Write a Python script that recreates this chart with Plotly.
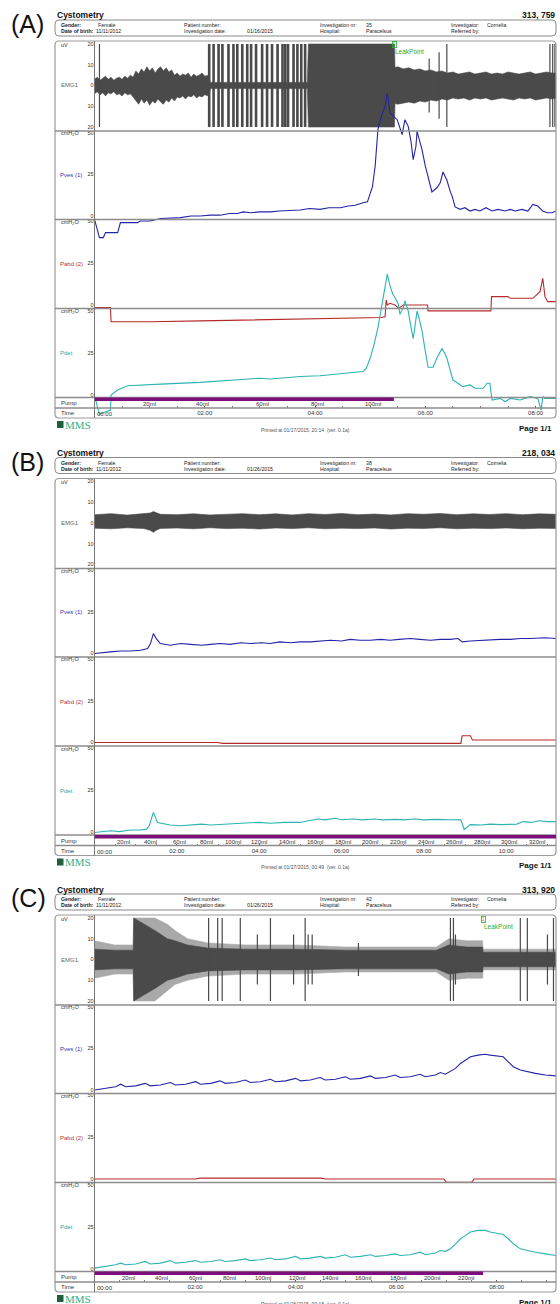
import plotly.graph_objects as go

# ======================= DATA =======================
# ---- Panel A ----
A_time_ticks = [0, 2, 4, 6, 8]
A_time_labels = ["00:00", "02:00", "04:00", "06:00", "08:00"]
A_tmax = 8.37
A_pump_end = 5.43
A_pump_ml = ["20ml", "40ml", "60ml", "80ml", "100ml"]
A_pump_t = [1.00, 1.96, 3.04, 4.04, 5.05]
A_leak_t = 5.40

A_pves_t = [0.00, 0.05, 0.09, 0.16, 0.20, 0.33, 0.42, 0.47, 0.78, 0.83,
            1.01, 1.20, 1.40, 1.56, 1.75, 1.92, 2.10, 2.28, 2.45, 2.59,
            2.70, 2.83, 3.00, 3.19, 3.35, 3.55, 3.73, 3.90, 4.09, 4.25,
            4.46, 4.60, 4.73, 4.87, 4.95, 5.04, 5.09, 5.14, 5.22, 5.27,
            5.31, 5.36, 5.43, 5.49, 5.58, 5.63, 5.69, 5.74, 5.78, 5.83,
            5.85, 5.94, 6.00, 6.05, 6.12, 6.21, 6.27, 6.32, 6.39, 6.45,
            6.49, 6.54, 6.63, 6.72, 6.81, 6.90, 6.99, 7.10, 7.21, 7.32,
            7.45, 7.54, 7.63, 7.75, 7.86, 7.95, 8.04, 8.13, 8.21, 8.30,
            8.37]
A_pves_v = [-2, -8, -13, -13, -10, -10, -10, -4, -4, -3,
            -3, -1.5, -1, -1, 0, 0, 0.5, 0.5, 1.5, 1.5,
            2.5, 2, 2.5, 2.5, 3, 3.5, 3.6, 4.5, 4, 5,
            5, 6, 6.5, 8, 8.5, 17.5, 30, 52, 62, 66,
            74, 62, 60, 58, 49, 58, 54, 45, 34, 42,
            51, 40, 30, 23.5, 14.5, 17, 20, 26.5, 21.7, 15,
            11.5, 5.5, 4, 5, 3, 4, 3, 5, 3, 4,
            3, 4, 3, 4, 3, 7, 6, 3, 2, 2,
            3]

A_pabd_t = [0.00, 0.29, 0.30, 1.01, 1.92, 2.83, 3.70, 4.50, 5.20, 5.27,
            5.29, 5.31, 5.36, 5.45, 5.52, 5.60, 5.80, 6.04, 6.05, 6.50,
            7.19, 7.20, 7.50, 7.54, 7.95, 8.08, 8.13, 8.17, 8.22, 8.37]
A_pabd_v = [-1.5, -1.5, -10, -10, -9.5, -9, -8.5, -8, -7.5, -7,
            3, 0, 1, 0, -2, 0, 0, 0, -3.5, -3.5,
            -3.5, 5, 5, 4, 4, 8, 16, 5, 2, 2]

A_pdet_t = [0.00, 0.05, 0.09, 0.20, 0.29, 0.30, 0.42, 0.60, 0.83, 1.20,
            1.92, 2.59, 3.00, 3.19, 3.73, 4.09, 4.46, 4.73, 4.87, 4.93,
            5.00, 5.07, 5.14, 5.24, 5.31, 5.36, 5.41, 5.45, 5.51, 5.54,
            5.60, 5.63, 5.69, 5.72, 5.78, 5.83, 5.85, 5.90, 5.94, 6.00,
            6.05, 6.14, 6.21, 6.30, 6.35, 6.39, 6.45, 6.50, 6.59, 6.68,
            6.81, 6.90, 7.05, 7.12, 7.17, 7.21, 7.36, 7.45, 7.54, 7.72,
            7.90, 8.04, 8.10, 8.13, 8.17, 8.26, 8.37]
A_pdet_v = [-0.5, -6, -11.5, -10, -9, 0, 3, 5.5, 6, 6.5,
            7.5, 9, 10, 9.5, 11, 11.5, 12.4, 13.5, 14, 16,
            22, 30, 40, 58, 72, 65, 60, 58, 54, 48,
            52, 56, 50, 44, 33.5, 45, 50, 44, 38, 26,
            16.5, 16.5, 22, 27.6, 25, 22, 15, 9, 7, 5,
            6, 4, 4, 7, 7, -3, -2, -4, -2, -3,
            -1, -2, -9, -1, -2, -2, -2]

A_emg_t = [0.00, 0.05, 0.10, 0.15, 0.20, 0.25, 0.30, 0.35, 0.40, 0.45,
           0.50, 0.55, 0.60, 0.65, 0.70, 0.75, 0.80, 0.85, 0.90, 0.95,
           1.00, 1.05, 1.10, 1.15, 1.20, 1.25, 1.30, 1.35, 1.40, 1.45,
           1.50, 1.55, 1.60, 1.65, 1.70, 1.75, 1.80, 1.85, 1.90, 1.95,
           2.00, 2.07, 2.10, 3.86, 3.88, 5.44, 5.45,
           5.50, 5.60, 5.70, 5.80, 5.90, 6.00, 6.10, 6.20, 6.30, 6.40,
           6.50, 6.60, 6.70, 6.80, 6.90, 7.00, 7.10, 7.20, 7.30, 7.40,
           7.50, 7.60, 7.70, 7.80, 7.90, 8.00, 8.10, 8.20, 8.30, 8.37]
A_emg_hi = [3, 4, 2.5, 3.5, 4.5, 3, 4, 2.5, 3.5, 4,
            3, 4.5, 3.5, 5, 4, 7, 5.5, 8, 6.5, 9,
            7, 8.5, 6, 8, 9, 7, 8.5, 6.5, 7.5, 5,
            6, 4.5, 5.5, 5, 6, 4, 5.5, 4.5, 5, 6,
            4.5, 5, 1.5, 1.5, 20, 20, 8.7,
            9, 8, 8.5, 7.5, 8, 7, 7.5, 6.5, 7, 6,
            6.5, 5.5, 6, 6.5, 5.5, 6, 6.5, 5.5, 6, 5.5,
            6.5, 6, 5.5, 6, 6.5, 5.5, 6, 6.5, 6, 6]
A_emg_lo = [-4, -3, -4.5, -3.5, -5, -3.5, -4, -3, -4.5, -4,
            -5, -3.5, -4.5, -4, -5.5, -7, -9, -6.5, -8.5, -7,
            -9.5, -7.5, -8.5, -6.5, -8, -9, -7, -8, -6, -7.5,
            -5.5, -6, -5, -6.5, -5, -5.5, -4.5, -6, -5, -5.5,
            -4.5, -5, -1.5, -1.5, -20, -20, -8.7,
            -9, -8.5, -8, -8.5, -7.5, -8, -7, -7.5, -6.5, -7,
            -6, -6.5, -6, -7, -6, -6.5, -6, -7, -6.5, -6,
            -6.5, -7, -6, -6.5, -6, -7, -6.5, -6, -6.5, -6]
A_bar_t = [2.08, 2.16, 2.25, 2.32, 2.43, 2.52, 2.59, 2.68, 2.77, 2.84,
           2.93, 3.04, 3.13, 3.22, 3.32, 3.41, 3.46, 3.51, 3.61, 3.68,
           3.75, 3.82]
A_bar_amp = [20] * 22
A_spk_t = [0.09, 6.07, 6.25, 6.39, 8.26, 8.31, 8.35]
A_spk_amp = [20, 13, 16, 20, 20, 20, 20]

# ---- Panel B ----
B_time_ticks = [0, 2, 4, 6, 8, 10]
B_time_labels = ["00:00", "02:00", "04:00", "06:00", "08:00", "10:00"]
B_tmax = 11.21
B_pump_end = 11.21
B_pump_ml = ["20ml", "40ml", "60ml", "80ml", "100ml", "120ml", "140ml", "160ml",
             "180ml", "200ml", "220ml", "240ml", "260ml", "280ml", "300ml", "320ml"]
B_pump_t = [0.70, 1.36, 2.06, 2.72, 3.37, 4.00, 4.68, 5.36,
            6.04, 6.70, 7.38, 8.06, 8.74, 9.42, 10.07, 10.75]

B_pves_t = [0.00, 0.15, 0.39, 0.63, 0.87, 1.12, 1.29, 1.36, 1.43, 1.50,
            1.60, 1.84, 2.10, 2.33, 2.60, 2.82, 3.05, 3.30, 3.55, 3.79,
            4.05, 4.27, 4.50, 4.76, 5.00, 5.24, 5.50, 5.73, 6.00, 6.21,
            6.45, 6.70, 6.95, 7.18, 7.40, 7.67, 7.90, 8.16, 8.40, 8.64,
            8.83, 8.93, 9.13, 9.40, 9.61, 9.85, 10.10, 10.35, 10.58, 10.80,
            10.95, 11.21]
B_pves_v = [0, 0.5, 1, 1.5, 1.5, 2, 3, 6, 12, 9,
            6, 5, 6, 5.5, 5, 5.5, 6, 5.5, 6.5, 6,
            6.5, 6, 7, 6.5, 7, 7, 7.5, 8, 7.5, 8.5,
            8, 8, 8.5, 8, 8.5, 9, 8.5, 8, 8.5, 8.5,
            9, 7, 7.5, 8, 8, 8.5, 8.5, 9, 9, 9.5,
            9.5, 9]

B_pabd_t = [0.00, 3.00, 3.10, 5.80, 8.90, 8.93, 9.13, 9.18, 11.21]
B_pabd_v = [0, 0, -0.5, -0.5, -0.5, 4, 4, 1.5, 1.5]

B_pdet_t = [0.00, 0.20, 0.39, 0.60, 0.87, 1.10, 1.26, 1.33, 1.43, 1.53,
            1.70, 1.84, 2.10, 2.33, 2.60, 2.82, 3.10, 3.40, 3.79, 4.00,
            4.27, 4.60, 5.00, 5.20, 5.43, 5.60, 5.85, 6.00, 6.30, 6.50,
            6.80, 7.00, 7.30, 7.50, 7.80, 8.00, 8.30, 8.64, 8.90, 8.98,
            9.13, 9.40, 9.60, 9.90, 10.26, 10.41, 10.60, 10.80, 11.00, 11.21]
B_pdet_v = [0, 0.5, 1, 0.5, 1.5, 1.5, 2, 4, 12, 6,
            5, 4.5, 4, 4.5, 5, 4.5, 5, 5.5, 5.8, 6,
            5.5, 6, 6, 7, 8, 7.5, 8.5, 7.6, 8, 7.5,
            8, 7.5, 7.8, 7.5, 8, 7.5, 7.8, 7.6, 7.5, 1.8,
            4.7, 4.5, 5, 4.7, 5, 6.5, 6, 7, 6.5, 6.5]

B_emg_t = [0.0, 0.4, 0.8, 1.2, 1.35, 1.43, 1.5, 1.6, 2.0, 2.4,
           2.8, 3.2, 3.6, 4.0, 4.4, 4.8, 5.2, 5.6, 6.0, 6.4,
           6.8, 7.2, 7.6, 8.0, 8.4, 8.8, 9.2, 9.6, 10.0, 10.4,
           10.8, 11.21]
B_emg_hi = [4, 4.5, 3.8, 4.3, 4.8, 5.5, 4.8, 4.2, 4, 4.4,
            3.9, 4.3, 4.5, 4, 4.4, 3.9, 4.5, 4.1, 4.6, 4,
            4.3, 3.9, 4.5, 4.2, 4.6, 4, 4.4, 4.1, 4.5, 4,
            4.4, 4.2]
B_emg_lo = [-2.5, -2.8, -2.3, -2.7, -3.5, -4.5, -3.5, -2.6, -2.4, -2.8,
            -2.3, -2.7, -2.5, -2.9, -2.4, -2.7, -2.3, -2.8, -2.5, -2.7,
            -2.4, -2.9, -2.5, -2.6, -2.3, -2.8, -2.5, -2.7, -2.4, -2.8,
            -2.5, -2.6]

# ---- Panel C ----
C_time_ticks = [0, 2, 4, 6, 8]
C_time_labels = ["00:00", "02:00", "04:00", "06:00", "08:00"]
C_tmax = 9.18
C_pump_end = 7.73
C_pump_ml = ["20ml", "40ml", "60ml", "80ml", "100ml", "120ml", "140ml", "160ml",
             "180ml", "200ml", "220ml"]
C_pump_t = [0.68, 1.33, 2.01, 2.68, 3.36, 4.02, 4.69, 5.35, 6.04, 6.72, 7.38]
C_leak_t = 7.69

C_pres_t = [0.00, 0.22, 0.42, 0.52, 0.62, 0.82, 1.01, 1.11, 1.31, 1.51,
            1.61, 1.81, 2.01, 2.11, 2.31, 2.50, 2.60, 2.80, 3.00, 3.10,
            3.30, 3.50, 3.60, 3.80, 4.00, 4.10, 4.29, 4.49, 4.59, 4.79,
            4.99, 5.09, 5.29, 5.49, 5.59, 5.79, 5.98, 6.08, 6.28, 6.48,
            6.58, 6.78, 6.88, 6.98, 7.08, 7.18, 7.28, 7.38, 7.48, 7.63,
            7.77, 7.87, 8.01, 8.13, 8.23, 8.33, 8.47, 8.61, 8.77, 8.97,
            9.18]
C_pves_v = [0, 1, 2, 3.5, 2, 2.5, 4, 2.5, 3, 4.5,
            3, 3.5, 5, 3.5, 4, 5.5, 4, 4.5, 6, 4.5,
            5, 6.5, 5, 5.5, 7, 5.5, 6, 7.5, 6, 6.5,
            8, 6.5, 7, 8.5, 7, 7.5, 9, 7.5, 8, 9.5,
            8, 9, 10.5, 9.5, 11, 13, 16, 18, 20, 21,
            21.5, 21, 20.5, 20, 17, 14, 12, 11, 10, 9,
            8.5]
C_pdet_v = [0.5, 1.5, 2.5, 3.5, 2.5, 3, 4.5, 3, 3.5, 5,
            3.5, 4, 5, 4, 4.5, 5.5, 4.5, 5, 6, 5,
            5.5, 6.5, 5.5, 6, 7.5, 6, 6.5, 7.5, 6.5, 7,
            8.5, 7, 7.5, 8.5, 7.5, 8, 9, 8, 8.5, 10,
            8.5, 9.5, 11, 10.5, 12, 15, 18, 20, 22, 23,
            23, 22, 21, 20.5, 18, 15, 12, 11, 10, 9,
            8]
C_pabd_t = [0.00, 2.00, 2.10, 4.50, 4.60, 6.95, 7.00, 7.50, 7.55, 9.18]
C_pabd_v = [0, 0, 0.5, 0.5, 0, 0, -2, -2, 0, 0]

C_emg_t = [0.00, 0.40, 0.77, 0.78, 1.20, 1.45, 1.60, 1.85, 2.25, 3.00,
           4.00, 5.00, 6.00, 6.80, 7.05, 7.40, 7.72, 7.73, 8.50, 9.18]
C_emg_outer_hi = [9, 7, 7, 20, 20, 17, 14, 10, 8, 7, 7, 6, 6, 6, 10, 9, 9, 5, 5, 5]
C_emg_outer_lo = [-9, -7, -7, -20, -20, -15, -12, -10, -8, -7, -7, -6, -6, -6, -10, -9, -9, -5, -5, -5]
C_emg_inner_hi = [5, 4.5, 4.5, 20, 14, 10, 9, 7, 5.5, 5, 5, 4.5, 4.5, 4.5, 7, 6, 6, 3.5, 3.5, 3.5]
C_emg_inner_lo = [-5, -4.5, -4.5, -20, -14, -10, -9, -7, -5.5, -5, -5, -4.5, -4.5, -4.5, -7, -6, -6, -3.5, -3.5, -3.5]
C_spk_t = [2.27, 2.45, 2.54, 2.90, 3.24, 3.50, 3.96, 4.19, 4.25, 4.33,
           5.25, 7.08, 7.14, 7.18, 8.47, 8.61, 9.01, 9.13]
C_spk_amp = [20, 20, 20, 20, 12, 20, 12, 20, 12, 12,
             8, 20, 20, 12, 20, 20, 12, 20]

# ======================= STYLE / LAYOUT =======================
W, H = 560, 1304
FONT = "Liberation Sans, Arial, sans-serif"
EMG_DARK = "#4a4a4a"
EMG_LIGHT = "#a9a9a9"
C_PVES = "#2424a8"
C_PABD = "#b52a2a"
C_PDET = "#2db3b3"
C_PUMP = "#7d0f7d"
C_LEAK = "#2fae2f"

OFFS = [0, 437.5, 874]
BOX_L, BOX_R = 55, 556
PLOT_L = 94.5
HDR_T, HDR_B = 20, 36
BOX_T, BOX_B = 41, 418
SEPS = [131, 219.5, 308.5, 397.5, 408]
CAL = [((20, 44), (-20, 127)),     # EMG
       ((50, 133), (0, 216)),      # Pves
       ((50, 221.5), (0, 305)),    # Pabd
       ((50, 311), (0, 395))]      # Pdet


def fx(x):
    return x / W


def fy(y):
    return 1 - y / H


def yrange(cal, top, bot):
    (va, ya), (vb, yb) = cal
    s = (yb - ya) / (va - vb)
    return [va - (bot - ya) / s, va + (ya - top) / s]


def check(name, a, b):
    if len(a) != len(b):
        raise ValueError(f"{name}: {len(a)} vs {len(b)}")


PANELS = [
    dict(label="(A)", pid="313, 759", date="01/16/2015", nr="35",
         printed="Printed at 01/17/2015, 20:14  (ver. 0.1a)",
         tmax=A_tmax, ticks=A_time_ticks, tlabels=A_time_labels,
         pump_end=A_pump_end, pump_t=A_pump_t, pump_ml=A_pump_ml, leak=A_leak_t,
         emg=[(A_emg_t, A_emg_hi, A_emg_lo, EMG_DARK)],
         spikes=[(A_bar_t, A_bar_amp, 2.6), (A_spk_t, A_spk_amp, 1.2)],
         pves=(A_pves_t, A_pves_v), pabd=(A_pabd_t, A_pabd_v), pdet=(A_pdet_t, A_pdet_v)),
    dict(label="(B)", pid="218, 034", date="01/26/2015", nr="38",
         printed="Printed at 01/27/2015, 00:49  (ver. 0.1a)",
         tmax=B_tmax, ticks=B_time_ticks, tlabels=B_time_labels,
         pump_end=B_pump_end, pump_t=B_pump_t, pump_ml=B_pump_ml, leak=None,
         emg=[(B_emg_t, B_emg_hi, B_emg_lo, EMG_DARK)],
         spikes=[],
         pves=(B_pves_t, B_pves_v), pabd=(B_pabd_t, B_pabd_v), pdet=(B_pdet_t, B_pdet_v)),
    dict(label="(C)", pid="313, 920", date="01/26/2015", nr="42",
         printed="Printed at 01/26/2015, 00:18  (ver. 0.1a)",
         tmax=C_tmax, ticks=C_time_ticks, tlabels=C_time_labels,
         pump_end=C_pump_end, pump_t=C_pump_t, pump_ml=C_pump_ml, leak=C_leak_t,
         emg=[(C_emg_t, C_emg_outer_hi, C_emg_outer_lo, EMG_LIGHT),
              (C_emg_t, C_emg_inner_hi, C_emg_inner_lo, EMG_DARK)],
         spikes=[(C_spk_t, C_spk_amp, 1.2)],
         pves=(C_pres_t, C_pves_v), pabd=(C_pabd_t, C_pabd_v), pdet=(C_pres_t, C_pdet_v)),
]

fig = go.Figure()
shapes, annots = [], []
layout_axes = {}


def ann(text, x, y, size=6.0, color="#222", xanchor="left", yanchor="middle",
        xref="paper", bold=False, family=FONT, **kw):
    if bold:
        text = f"<b>{text}</b>"
    annots.append(dict(text=text, x=x, y=y, xref=xref, yref="paper", xanchor=xanchor,
                       yanchor=yanchor, showarrow=False,
                       font=dict(size=size, color=color, family=family), **kw))


def rrect(x0, y0, x1, y1, r):
    X, Y = fx, fy
    return (f"M {X(x0 + r)},{Y(y0)} L {X(x1 - r)},{Y(y0)} Q {X(x1)},{Y(y0)} {X(x1)},{Y(y0 + r)} "
            f"L {X(x1)},{Y(y1 - r)} Q {X(x1)},{Y(y1)} {X(x1 - r)},{Y(y1)} "
            f"L {X(x0 + r)},{Y(y1)} Q {X(x0)},{Y(y1)} {X(x0)},{Y(y1 - r)} "
            f"L {X(x0)},{Y(y0 + r)} Q {X(x0)},{Y(y0)} {X(x0 + r)},{Y(y0)} Z")


for p, P in enumerate(PANELS):
    off = OFFS[p]
    xname = "x" if p == 0 else f"x{p + 1}"
    xlay = "xaxis" if p == 0 else f"xaxis{p + 1}"
    base = "y" if p == 0 else f"y{p * 4 + 1}"

    layout_axes[xlay] = dict(
        domain=[fx(PLOT_L), fx(BOX_R)], range=[0, P["tmax"]], anchor="free",
        position=fy(405 + off), tickmode="array", tickvals=P["ticks"][1:],
        ticktext=P["tlabels"][1:], ticks="outside", ticklen=2, tickcolor="#555",
        tickfont=dict(size=6, color="#333", family=FONT), showgrid=False, zeroline=False,
        showline=False, automargin=False,
        minor=dict(ticks="outside", ticklen=1.5, dtick=0.5, tick0=0, tickcolor="#777",
                   showgrid=False))

    ynames = []
    for c in range(4):
        n = p * 4 + c + 1
        yname = "y" if n == 1 else f"y{n}"
        ylay = "yaxis" if n == 1 else f"yaxis{n}"
        ynames.append(yname)
        (va, ya), (vb, yb) = CAL[c]
        cal = ((va, ya + off), (vb, yb + off))
        if c == 0:
            tv, tt = [20, 10, 0, -10, -20], ["20", "10", "0", "10", "20"]
        else:
            tv, tt = [50, 25, 0], ["50", "25", "0"]
        d = dict(domain=[fy(BOX_B - 1 + off), fy(BOX_T + 1 + off)],
                 range=yrange(cal, BOX_T + 1 + off, BOX_B - 1 + off),
                 anchor=xname, side="left", tickmode="array", tickvals=tv, ticktext=tt,
                 ticks="", tickfont=dict(size=5.5, color="#333", family=FONT),
                 showgrid=False, zeroline=False, showline=False, automargin=False)
        if c > 0:
            d["overlaying"] = base
        layout_axes[ylay] = d

    # EMG envelopes
    for (t, hi, lo, col) in P["emg"]:
        check("emg", t, hi)
        check("emg", t, lo)
        fig.add_trace(go.Scatter(x=list(t) + list(t)[::-1], y=list(hi) + list(lo)[::-1],
                                 fill="toself", fillcolor=col, mode="lines",
                                 line=dict(color=col, width=0.6),
                                 xaxis=xname, yaxis=ynames[0], hoverinfo="skip",
                                 showlegend=False))
    for (ts, amps, wdt) in P["spikes"]:
        check("spikes", ts, amps)
        xs, ys = [], []
        for t, a in zip(ts, amps):
            xs += [t, t, None]
            ys += [-a, a, None]
        fig.add_trace(go.Scatter(x=xs, y=ys, mode="lines", line=dict(color=EMG_DARK, width=wdt),
                                 xaxis=xname, yaxis=ynames[0], hoverinfo="skip",
                                 showlegend=False))
    # pressures
    for key, idx, col in [("pabd", 2, C_PABD), ("pves", 1, C_PVES), ("pdet", 3, C_PDET)]:
        t, v = P[key]
        check(key + str(p), t, v)
        fig.add_trace(go.Scatter(x=t, y=v, mode="lines", line=dict(color=col, width=1.1),
                                 xaxis=xname, yaxis=ynames[idx], hoverinfo="skip",
                                 showlegend=False))

    # frame shapes
    shapes.append(dict(type="path", path=rrect(BOX_L, HDR_T + off, BOX_R, HDR_B + off, 4),
                       xref="paper", yref="paper", line=dict(color="#8a8a8a", width=1)))
    shapes.append(dict(type="path", path=rrect(BOX_L, BOX_T + off, BOX_R, BOX_B + off, 4),
                       xref="paper", yref="paper", line=dict(color="#9a9a9a", width=1.2)))
    for s in SEPS:
        shapes.append(dict(type="line", xref="paper", yref="paper", x0=fx(BOX_L), x1=fx(BOX_R),
                           y0=fy(s + off), y1=fy(s + off), line=dict(color="#8c8c8c", width=1.3)))
    shapes.append(dict(type="line", xref="paper", yref="paper", x0=fx(PLOT_L), x1=fx(PLOT_L),
                       y0=fy(BOX_T + off), y1=fy(BOX_B + off), line=dict(color="#777", width=1)))
    # pump bar
    shapes.append(dict(type="line", xref=xname, yref="paper", x0=0, x1=P["pump_end"],
                       y0=fy(399.3 + off), y1=fy(399.3 + off), line=dict(color=C_PUMP, width=3.5),
                       layer="above"))

    # header texts
    ann(P["label"], fx(9), fy(24 + off), size=25, color="#111")
    ann("Cystometry", fx(55), fy(15.5 + off), size=8.5, color="#111", bold=True)
    ann(P["pid"], fx(557), fy(15.5 + off), size=8.5, color="#111", bold=True, xanchor="right")
    r1, r2 = 25 + off, 31 + off
    ann("Gender:", fx(59), fy(r1), size=5.2, bold=True)
    ann("Female", fx(96), fy(r1), size=5.2)
    ann("Date of birth:", fx(59), fy(r2), size=5.2, bold=True)
    ann("11/11/2012", fx(94), fy(r2), size=5.2)
    ann("Patient number:", fx(182), fy(r1), size=5.2)
    ann("Investigation date:", fx(182), fy(r2), size=5.2)
    ann(P["date"], fx(245), fy(r2), size=5.2)
    ann("Investigation nr:", fx(318), fy(r1), size=5.2)
    ann(P["nr"], fx(364), fy(r1), size=5.2)
    ann("Hospital:", fx(318), fy(r2), size=5.2)
    ann("Paracelsus", fx(364), fy(r2), size=5.2)
    ann("Investigator:", fx(449), fy(r1), size=5.2)
    ann("Cornelia", fx(485), fy(r1), size=5.2)
    ann("Referred by:", fx(449), fy(r2), size=5.2)

    # left column labels
    ann("uV", fx(59), fy(44.5 + off), size=5.5, color="#333")
    ann("EMG1", fx(59), fy(85.5 + off), size=6, color="#666")
    for yy in (133.5, 222, 311.5):
        ann("cmH<sub>2</sub>O", fx(59), fy(yy + off), size=5.5, color="#333")
    ann("Pves (1)", fx(58), fy(175 + off), size=6, color="#3434b4")
    ann("Pabd (2)", fx(58), fy(264 + off), size=6, color="#b43434")
    ann("Pdet", fx(58), fy(353 + off), size=6, color="#2aa8a8")
    ann("Pump", fx(59), fy(403 + off), size=6, color="#333")
    ann("Time", fx(59), fy(413 + off), size=6, color="#333")

    # time origin label and pump volume labels
    ann(P["tlabels"][0], 0, fy(414 + off), size=6, color="#333", xref=xname)
    check("pump", P["pump_t"], P["pump_ml"])
    for t, lab in zip(P["pump_t"], P["pump_ml"]):
        ann(lab, t, fy(404 + off), size=6, color="#333", xref=xname, xanchor="center")

    # leak point
    if P["leak"] is not None:
        ann("1", P["leak"], fy(45 + off), size=4.5, color=C_LEAK, xref=xname, xanchor="left",
            bordercolor=C_LEAK, borderwidth=0.8, borderpad=0)
        ann("LeakPoint", P["leak"], fy(52 + off), size=6.5, color=C_LEAK, xref=xname,
            xanchor="left", xshift=1)

    # footer
    shapes.append(dict(type="rect", xref="paper", yref="paper", x0=fx(57), x1=fx(63.5),
                       y0=fy(428 + off), y1=fy(421 + off), fillcolor="#1f5f3f", line=dict(width=0)))
    ann("MMS", fx(63), fy(424.5 + off), size=11, color="#31b089",
        family="Liberation Serif, Times New Roman, serif")
    ann(P["printed"], fx(305), fy(429.5 + off), size=5, color="#555", xanchor="center")
    ann("Page 1/1", fx(554), fy(428 + off), size=8, color="#111", bold=True, xanchor="right")

fig.update_layout(
    width=W, height=H, margin=dict(l=0, r=0, t=0, b=0), autosize=False,
    template="none", paper_bgcolor="white", plot_bgcolor="rgba(0,0,0,0)",
    showlegend=False, hovermode=False, font=dict(family=FONT, size=6, color="#222"),
    shapes=shapes, annotations=annots, **layout_axes)

fig.write_html("out.html", config={"displayModeBar": False},
               post_script="document.body.style.margin='0';document.body.style.padding='0';"
                           "document.body.style.overflow='hidden';")
